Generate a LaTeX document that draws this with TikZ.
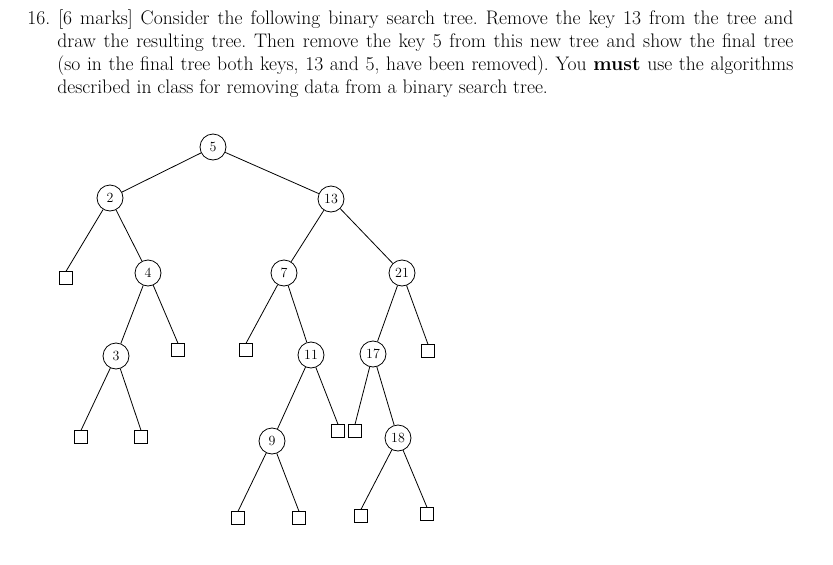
\documentclass[tikz,border=0pt]{standalone}
\begin{document}
\frenchspacing
\begin{tikzpicture}[x=1pt,y=-1pt,
  key/.style={circle,draw,thick,minimum size=26pt,inner sep=0pt,font=\fontsize{14}{14}\selectfont},
  leaf/.style={rectangle,draw,thick,minimum size=12.5pt,inner sep=0pt},
  every path/.style={thick}]
\useasboundingbox (0,0) rectangle (833,565);
\node[anchor=north west,inner sep=0pt,text width=766pt,align=justify,font=\fontsize{19.6}{23.2}\selectfont] (txt) at (27,9)
{\frenchspacing\hangindent=30pt\hangafter=1\noindent 16.\ [6 marks] Consider the following binary search tree. Remove the key 13 from the tree and\linebreak draw the resulting tree. Then remove the key 5 from this new tree and show the final tree\linebreak (so in the final tree both keys, 13 and 5, have been removed). You \textbf{must} use the algorithms\linebreak described in class for removing data from a binary search tree.\par};
\node[key] (n5) at (213,147) {5};
\node[key] (n2) at (110,198) {2};
\node[key] (n13) at (331,199) {13};
\node[key] (n4) at (148,273) {4};
\node[key] (n7) at (284,273) {7};
\node[key] (n21) at (402,273) {21};
\node[key] (n3) at (116,356) {3};
\node[key] (n11) at (311,355) {11};
\node[key] (n17) at (373,354) {17};
\node[key] (n9) at (272,441) {9};
\node[key] (n18) at (398,438) {18};
\node[leaf] (l2) at (66,278) {};
\node[leaf] (l4) at (178,350) {};
\node[leaf] (l3a) at (81,437) {};
\node[leaf] (l3b) at (141,437) {};
\node[leaf] (l7) at (246,350) {};
\node[leaf] (l11) at (338,431) {};
\node[leaf] (l17) at (355,431) {};
\node[leaf] (l21) at (428,351) {};
\node[leaf] (l9a) at (238,518) {};
\node[leaf] (l9b) at (299,518) {};
\node[leaf] (l18a) at (361,516) {};
\node[leaf] (l18b) at (427,514) {};
\draw (n5)--(n2); \draw (n5)--(n13);
\draw (n2)--(l2.north); \draw (n2)--(n4);
\draw (n4)--(n3); \draw (n4)--(l4.north);
\draw (n3)--(l3a.north); \draw (n3)--(l3b.north);
\draw (n13)--(n7); \draw (n13)--(n21);
\draw (n7)--(l7.north); \draw (n7)--(n11);
\draw (n11)--(n9); \draw (n11)--(l11.north);
\draw (n9)--(l9a.north); \draw (n9)--(l9b.north);
\draw (n21)--(n17); \draw (n21)--(l21.north);
\draw (n17)--(l17.north); \draw (n17)--(n18);
\draw (n18)--(l18a.north); \draw (n18)--(l18b.north);
\end{tikzpicture}
\end{document}
